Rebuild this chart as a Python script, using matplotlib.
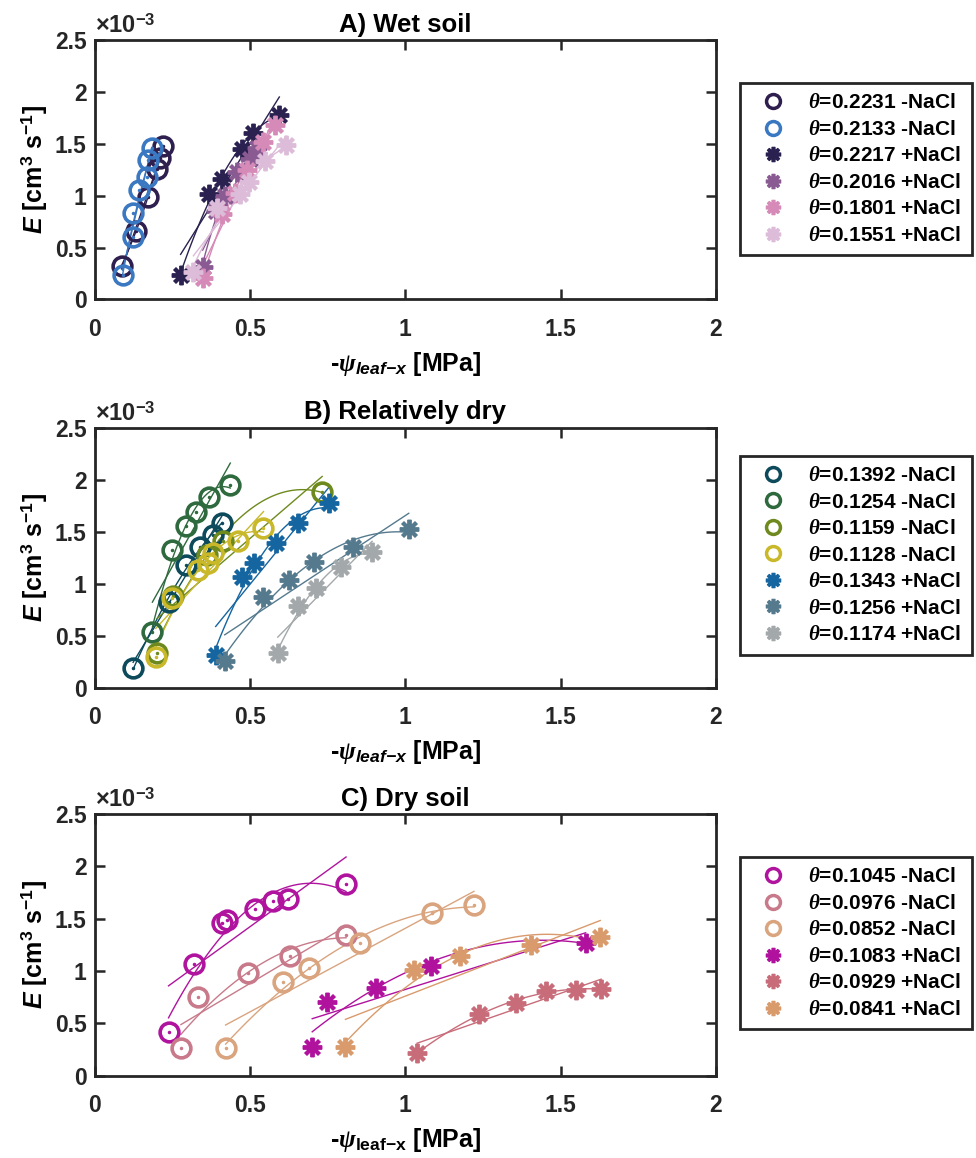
import numpy as np
import matplotlib.pyplot as plt
from matplotlib.lines import Line2D
from matplotlib.ticker import FuncFormatter

plt.rcParams['font.family'] = 'Liberation Sans'
plt.rcParams['font.weight'] = 'bold'
plt.rcParams['axes.labelweight'] = 'bold'
plt.rcParams['axes.titleweight'] = 'bold'
plt.rcParams['mathtext.fontset'] = 'custom'
plt.rcParams['mathtext.rm'] = 'Liberation Sans:bold'
plt.rcParams['mathtext.sf'] = 'Liberation Sans:bold'
plt.rcParams['mathtext.it'] = 'Liberation Serif:italic'
plt.rcParams['mathtext.bf'] = 'Liberation Sans:bold:italic'

# ---- A) Wet soil ----
a_labels = ['0.2231 -NaCl', '0.2133 -NaCl', '0.2217 +NaCl',
            '0.2016 +NaCl', '0.1801 +NaCl', '0.1551 +NaCl']
a_colors = ['#2e1f4f', '#3b78c2', '#2a2150', '#8a5a92', '#d68ab8', '#dcbcd9']
a_salt = [False, False, True, True, True, True]
a_x = [
    [0.086, 0.132, 0.171, 0.200, 0.210, 0.218],
    [0.089, 0.124, 0.122, 0.143, 0.167, 0.172, 0.183],
    [0.276, 0.369, 0.408, 0.473, 0.508, 0.594],
    [0.347, 0.39, 0.42, 0.457, 0.50, 0.521],
    [0.349, 0.41, 0.45, 0.49, 0.543, 0.581],
    [0.317, 0.392, 0.468, 0.495, 0.548, 0.616],
]
a_y = [
    [0.326, 0.663, 0.99, 1.257, 1.36, 1.479],
    [0.236, 0.605, 0.837, 1.055, 1.18, 1.344, 1.457],
    [0.236, 1.016, 1.158, 1.447, 1.607, 1.777],
    [0.316, 0.85, 1.0, 1.231, 1.35, 1.457],
    [0.204, 0.82, 1.03, 1.25, 1.52, 1.68],
    [0.268, 0.88, 1.02, 1.135, 1.33, 1.49],
]

# ---- B) Relatively dry ----
b_labels = ['0.1392 -NaCl', '0.1254 -NaCl', '0.1159 -NaCl', '0.1128 -NaCl',
            '0.1343 +NaCl', '0.1256 +NaCl', '0.1174 +NaCl']
b_colors = ['#0c4a5c', '#2e6a3e', '#6e8a1e', '#c9b82a',
            '#1565a0', '#557a8e', '#a3a8aa']
b_salt = [False, False, False, False, True, True, True]
b_x = [
    [0.123, 0.239, 0.293, 0.338, 0.380, 0.410],
    [0.185, 0.247, 0.293, 0.325, 0.367, 0.436],
    [0.20, 0.25, 0.36, 0.413, 0.732],
    [0.196, 0.249, 0.332, 0.364, 0.380, 0.461, 0.543],
    [0.389, 0.475, 0.511, 0.584, 0.654, 0.753],
    [0.418, 0.541, 0.625, 0.707, 0.831, 1.011],
    [0.589, 0.654, 0.713, 0.793, 0.893],
]
b_y = [
    [0.185, 0.825, 1.178, 1.354, 1.466, 1.585],
    [0.536, 1.322, 1.553, 1.69, 1.835, 1.947],
    [0.33, 0.88, 1.27, 1.41, 1.883],
    [0.296, 0.857, 1.129, 1.194, 1.296, 1.41, 1.53],
    [0.312, 1.066, 1.194, 1.386, 1.579, 1.771],
    [0.255, 0.873, 1.034, 1.204, 1.354, 1.522],
    [0.329, 0.784, 0.954, 1.162, 1.306],
]

# ---- C) Dry soil ----
c_labels = ['0.1045 -NaCl', '0.0976 -NaCl', '0.0852 -NaCl',
            '0.1083 +NaCl', '0.0929 +NaCl', '0.0841 +NaCl']
c_colors = ['#b0149e', '#c87a8a', '#d9a47e', '#b0129e', '#c86c7a', '#d99a6c']
c_salt = [False, False, False, True, True, True]
c_x = [
    [0.237, 0.320, 0.408, 0.424, 0.517, 0.575, 0.622, 0.809],
    [0.277, 0.333, 0.493, 0.628, 0.809],
    [0.421, 0.606, 0.689, 0.854, 1.085, 1.221],
    [0.700, 0.748, 0.904, 1.084, 1.581],
    [1.038, 1.237, 1.357, 1.453, 1.549, 1.631],
    [0.807, 1.028, 1.177, 1.405, 1.628],
]
c_y = [
    [0.42, 1.067, 1.455, 1.487, 1.589, 1.668, 1.685, 1.831],
    [0.267, 0.749, 0.978, 1.143, 1.344],
    [0.267, 0.898, 1.032, 1.27, 1.557, 1.63],
    [0.271, 0.707, 0.835, 1.051, 1.27],
    [0.214, 0.589, 0.697, 0.812, 0.823, 0.826],
    [0.271, 1.01, 1.146, 1.252, 1.322],
]

STAR = (8, 2, 0)


def draw_panel(ax, title, labels, colors, salt, xs, ys, upright_sub, leg_anchor):
    handles = []
    for lab, col, s, x, y in zip(labels, colors, salt, xs, ys):
        x = np.asarray(x)
        y = np.asarray(y)
        # linear and quadratic fits over the measured range
        xf = np.linspace(x.min(), x.max(), 80)
        for deg in (1, 2):
            p = np.polyfit(x, y, deg)
            ax.plot(xf, np.polyval(p, xf), color=col, lw=1.0, zorder=2)
        if s:
            ax.plot(x, y, ls='none', marker=STAR, ms=14, mew=2.8,
                    color=col, zorder=3)
            handles.append(Line2D([], [], ls='none', marker=STAR, ms=11,
                                  mew=2.6, color=col))
        else:
            ax.plot(x, y, ls='none', marker='o', ms=13.5, mew=2.6,
                    mfc='none', mec=col, zorder=3)
            ax.plot(x, y, ls='none', marker='.', ms=3, color=col, zorder=3)
            handles.append(Line2D([], [], ls='none', marker='o', ms=10,
                                  mew=2.5, mfc='none', mec=col))

    ax.set_xlim(0, 2)
    ax.set_ylim(0, 2.5)
    ax.set_xticks([0, 0.5, 1, 1.5, 2])
    ax.set_yticks([0, 0.5, 1, 1.5, 2, 2.5])
    fmt = FuncFormatter(lambda v, pos: '%g' % v)
    ax.xaxis.set_major_formatter(fmt)
    ax.yaxis.set_major_formatter(fmt)
    ax.tick_params(direction='in', top=True, right=True, length=7,
                   width=1.8, labelsize=16.5, colors='#262626')
    ax.tick_params(axis='x', pad=13)
    ax.tick_params(axis='y', pad=6)
    for sp in ax.spines.values():
        sp.set_linewidth(2)
        sp.set_color('#262626')

    ax.set_title(title, fontsize=18.5, fontweight='bold', pad=6)
    ax.text(0.0, 1.008, r'$\times$10$^{-3}$', transform=ax.transAxes,
            fontsize=17, ha='left', va='bottom', color='#262626')
    if upright_sub:
        xl = r'-$\psi_{\mathrm{leaf{-}x}}$ [MPa]'
    else:
        xl = r'-$\psi_{\mathbf{leaf{-}x}}$ [MPa]'
    ax.set_xlabel(xl, fontsize=18, fontweight='bold', labelpad=7)
    ax.set_ylabel(r'$\mathbf{E}$ [cm$^{3}$ s$^{-1}$]', fontsize=18,
                  fontweight='bold', labelpad=4)

    leg = ax.legend(handles, [r'$\theta$=' + l for l in labels],
                    loc='upper left', bbox_to_anchor=leg_anchor,
                    borderaxespad=0, fancybox=False, framealpha=1,
                    edgecolor='#262626', fontsize=15, handlelength=2.2,
                    handletextpad=0.6, labelspacing=0.36, borderpad=0.5)
    leg.get_frame().set_linewidth(2)


fig = plt.figure(figsize=(9.76, 11.58), dpi=100)
ax_a = fig.add_axes([0.0973, 0.7414, 0.636, 0.2241])
ax_b = fig.add_axes([0.0973, 0.4063, 0.636, 0.2245])
ax_c = fig.add_axes([0.0973, 0.0711, 0.636, 0.2260])

draw_panel(ax_a, 'A) Wet soil', a_labels, a_colors, a_salt, a_x, a_y,
           False, (1.0386, 0.834))
draw_panel(ax_b, 'B) Relatively dry', b_labels, b_colors, b_salt, b_x, b_y,
           False, (1.0386, 0.8915))
draw_panel(ax_c, 'C) Dry soil', c_labels, c_colors, c_salt, c_x, c_y,
           True, (1.0386, 0.8357))

fig.savefig('out.png', dpi=100)
